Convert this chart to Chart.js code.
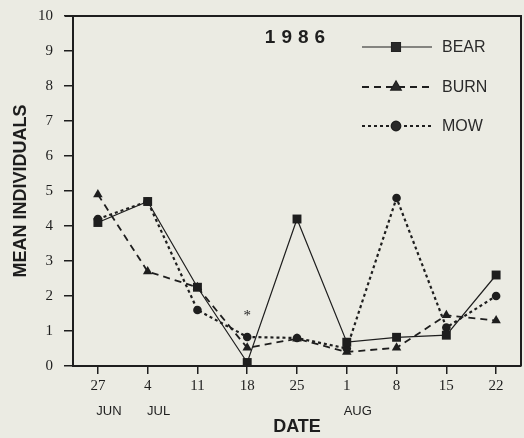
<!DOCTYPE html>
<html lang="en">
<head>
  <meta charset="UTF-8">
  <title>Mean individuals 1986</title>
  <script src="https://cdn.jsdelivr.net/npm/chart.js@4.4.1/dist/chart.umd.min.js"></script>
  <style>
    html, body { margin: 0; padding: 0; background: #ebebe3; }
    #wrap { width: 524px; height: 438px; }
  </style>
</head>
<body>
<div id="wrap"><canvas id="chart" width="524" height="438"></canvas></div>

<script>
// dates along the x axis, with month under the first week of each month
const days = ['27', '4', '11', '18', '25', '1', '8', '15', '22'];
const months = ['JUN', 'JUL', '', '', '', 'AUG', '', '', ''];

// mean individuals per sample date
const bear = [4.1, 4.7, 2.25, 0.1, 4.2, 0.68, 0.82, 0.88, 2.6];
const burn = [4.9, 2.7, 2.25, 0.52, 0.78, 0.4, 0.52, 1.45, 1.3];
const mow  = [4.2, 4.7, 1.6, 0.83, 0.8, 0.5, 4.8, 1.1, 2.0];

const yTicks = [0, 1, 2, 3, 4, 5, 6, 7, 8, 9, 10];
// asterisk above the 18 Jul samples
const starAt = { index: 3, value: 1.5 };

const ink = '#1e1e1e';
const serif = '"Liberation Serif", "DejaVu Serif", serif';
const sans = '"Liberation Sans", Arimo, sans-serif';

const series = [
  { label: 'BEAR', data: bear, dash: [], width: 1.2, style: 'rect', radius: 6.3 },
  { label: 'BURN', data: burn, dash: [7, 5], width: 1.8, style: 'triangle', radius: 5.5 },
  { label: 'MOW', data: mow, dash: [3, 3], width: 2.2, style: 'circle', radius: 4.3 }
];

const extras = {
  id: 'extras',
  afterDraw(chart) {
    const ctx = chart.ctx;
    const a = chart.chartArea;
    const x = chart.scales.x;
    const y = chart.scales.y;
    ctx.save();

    // frame on top and right
    ctx.strokeStyle = ink;
    ctx.lineWidth = 2;
    ctx.beginPath();
    ctx.moveTo(a.left - 8, a.top);
    ctx.lineTo(a.right, a.top);
    ctx.lineTo(a.right, a.bottom);
    ctx.stroke();

    // month names under the day numbers
    ctx.fillStyle = ink;
    ctx.font = '13px ' + sans;
    ctx.textAlign = 'center';
    ctx.textBaseline = 'middle';
    months.forEach((m, i) => {
      if (m) ctx.fillText(m, x.getPixelForValue(i) + 11, a.bottom + 45);
    });

    // asterisk
    ctx.font = '15px ' + serif;
    ctx.fillText('*', x.getPixelForValue(starAt.index), y.getPixelForValue(starAt.value) + 3);

    // year label
    ctx.font = 'bold 19px ' + sans;
    ctx.letterSpacing = '6px';
    ctx.fillText('1986', (a.left + a.right) / 2 + 1, a.top + 22);
    ctx.letterSpacing = '0px';

    // legend inside the plot
    const rows = [a.top + 31, a.top + 71, a.top + 110];
    const x0 = a.right - 159, x1 = a.right - 89, xm = a.right - 125;
    series.forEach((s, i) => {
      const yy = rows[i];
      ctx.strokeStyle = ink;
      ctx.lineWidth = s.width;
      ctx.setLineDash(s.dash);
      ctx.beginPath();
      ctx.moveTo(x0, yy);
      ctx.lineTo(x1, yy);
      ctx.stroke();
      ctx.setLineDash([]);
      Chart.helpers.drawPoint(ctx, { pointStyle: s.style, radius: s.radius, borderWidth: 1 }, xm, yy);
      ctx.fillStyle = '#2a2a2a';
      ctx.fill();
      ctx.font = '16px ' + sans;
      ctx.textAlign = 'left';
      ctx.fillText(s.label, a.right - 79, yy + 1);
    });
    ctx.restore();
  }
};

new Chart(document.getElementById('chart'), {
  type: 'line',
  data: {
    labels: days,
    datasets: series.map(s => ({
      label: s.label,
      data: s.data,
      borderColor: ink,
      backgroundColor: ink,
      borderWidth: s.width,
      borderDash: s.dash,
      pointStyle: s.style,
      pointRadius: s.radius,
      pointBackgroundColor: ink,
      pointBorderColor: ink,
      pointBorderWidth: 0,
      tension: 0,
      fill: false,
      clip: false
    }))
  },
  options: {
    responsive: false,
    animation: false,
    layout: { autoPadding: false, padding: { top: 16, right: 3, left: 0, bottom: 0 } },
    plugins: { legend: { display: false }, tooltip: { enabled: false } },
    scales: {
      x: {
        offset: true,
        grid: { display: true, drawOnChartArea: false, drawTicks: true, tickLength: 8, color: ink, lineWidth: 1.5, offset: false },
        border: { display: true, color: ink, width: 2 },
        ticks: { color: ink, font: { family: serif, size: 15 }, padding: 3, maxRotation: 0, autoSkip: false },
        title: { display: true, text: 'DATE', color: ink, font: { family: sans, size: 18, weight: 'bold' }, padding: { top: 0, bottom: 0 } },
        afterFit(scale) {
          scale.height = 72;
          scale.paddingLeft = 0;
          scale.paddingRight = 0;
        }
      },
      y: {
        min: 0,
        max: 10,
        afterBuildTicks(scale) { scale.ticks = yTicks.map(v => ({ value: v })); },
        grid: { display: true, drawOnChartArea: false, drawTicks: true, tickLength: 9, color: ink, lineWidth: 1.5 },
        border: { display: true, color: ink, width: 2 },
        ticks: { color: ink, font: { family: serif, size: 15 }, padding: 11 },
        title: { display: true, text: 'MEAN INDIVIDUALS', color: ink, font: { family: sans, size: 18, weight: 'bold' }, padding: { top: 10, bottom: 0 } },
        afterFit(scale) {
          scale.width = 73;
          scale.paddingTop = 0;
          scale.paddingBottom = 0;
        }
      }
    }
  },
  plugins: [extras]
});
</script>
</body>
</html>
